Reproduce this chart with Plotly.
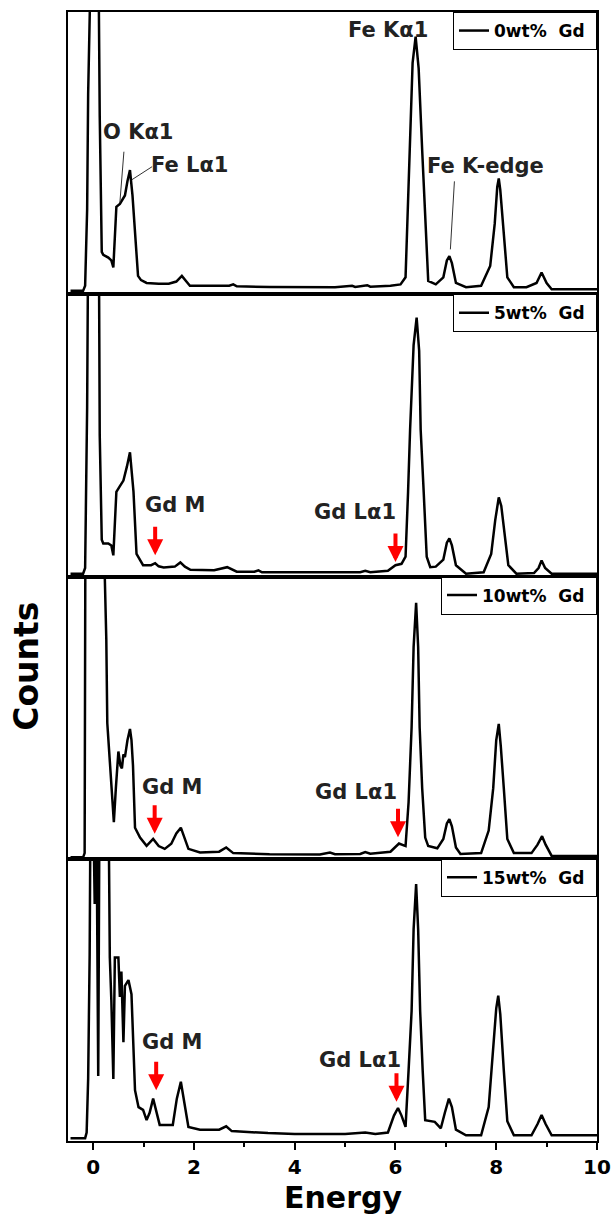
import plotly.graph_objects as go
from plotly.subplots import make_subplots

# ---------------- data (counts in arbitrary units) ----------------
labels = ["0wt%\u00a0 Gd\u00a0", "5wt%\u00a0 Gd\u00a0", "10wt%\u00a0 Gd\u00a0", "15wt%\u00a0 Gd\u00a0"]

energy_0 = [-0.45, -0.2, -0.16, -0.12, -0.1, -0.07, 0.0, 0.1, 0.13, 0.17, 0.2, 0.3, 0.36, 0.4, 0.46, 0.53,
            0.63, 0.68, 0.73, 0.78, 0.83, 0.89, 0.95, 1.06, 1.3, 1.5, 1.65, 1.76, 1.85, 1.92, 2.3, 2.7, 2.78,
            2.85, 3.5, 4.1, 4.8, 5.14, 5.2, 5.44, 5.5, 5.9, 6.1, 6.2, 6.24, 6.28, 6.34, 6.4, 6.46, 6.53, 6.58,
            6.65, 6.8, 6.95, 7.02, 7.07, 7.12, 7.2, 7.4, 7.7, 7.88, 7.97, 8.02, 8.05, 8.08, 8.15, 8.22, 8.35,
            8.6, 8.8, 8.9, 9.0, 9.1, 9.5, 10.0]
counts_0 = [0.012, 0.012, 0.03, 0.3, 0.71, 1.3, 1.6, 1.3, 0.63, 0.15, 0.14, 0.13, 0.12, 0.095, 0.31, 0.32,
            0.35, 0.40, 0.44, 0.35, 0.22, 0.065, 0.05, 0.04, 0.037, 0.037, 0.045, 0.065, 0.045, 0.03, 0.03, 0.03,
            0.035, 0.028, 0.026, 0.025, 0.025, 0.03, 0.026, 0.032, 0.027, 0.03, 0.035, 0.06, 0.3, 0.51, 0.82,
            0.913, 0.8, 0.51, 0.3, 0.047, 0.035, 0.06, 0.12, 0.135, 0.11, 0.04, 0.025, 0.03, 0.1, 0.25, 0.38,
            0.41, 0.37, 0.22, 0.06, 0.025, 0.025, 0.04, 0.077, 0.04, 0.018, 0.018, 0.018]

energy_5 = [-0.45, -0.2, -0.16, -0.12, -0.09, 0.0, 0.11, 0.13, 0.17, 0.2, 0.3, 0.36, 0.4, 0.46, 0.53, 0.6,
            0.67, 0.73, 0.8, 0.86, 0.99, 1.15, 1.23, 1.3, 1.4, 1.62, 1.73, 1.82, 1.93, 2.4, 2.66, 2.85, 3.2,
            3.28, 3.35, 4.5, 5.3, 5.4, 5.5, 5.85, 6.0, 6.12, 6.2, 6.25, 6.29, 6.36, 6.42, 6.47, 6.5, 6.56,
            6.62, 6.69, 6.8, 6.95, 7.02, 7.07, 7.12, 7.2, 7.4, 7.75, 7.9, 7.98, 8.05, 8.1, 8.16, 8.24, 8.4,
            8.75, 8.84, 8.9, 8.97, 9.1, 10.0]
counts_5 = [0.01, 0.01, 0.03, 0.6, 1.5, 1.7, 1.3, 0.5, 0.13, 0.117, 0.117, 0.11, 0.075, 0.3, 0.32, 0.34,
            0.39, 0.44, 0.3, 0.08, 0.04, 0.04, 0.047, 0.036, 0.032, 0.035, 0.05, 0.035, 0.024, 0.022, 0.033,
            0.017, 0.017, 0.022, 0.015, 0.015, 0.015, 0.02, 0.015, 0.02, 0.04, 0.045, 0.07, 0.3, 0.52, 0.82,
            0.917, 0.8, 0.52, 0.3, 0.07, 0.033, 0.035, 0.06, 0.12, 0.135, 0.11, 0.04, 0.01, 0.015, 0.08, 0.2,
            0.28, 0.25, 0.15, 0.04, 0.01, 0.012, 0.03, 0.057, 0.03, 0.01, 0.01]

energy_10 = [-0.45, -0.2, -0.17, -0.15, 0.0, 0.2, 0.23, 0.26, 0.28, 0.36, 0.41, 0.45, 0.5, 0.54, 0.57, 0.6,
             0.63, 0.68, 0.73, 0.76, 0.79, 0.83, 0.93, 1.06, 1.19, 1.3, 1.42, 1.55, 1.65, 1.74, 1.8, 1.89,
             2.12, 2.5, 2.64, 2.78, 3.5, 4.5, 4.7, 4.8, 5.3, 5.4, 5.5, 5.9, 6.07, 6.2, 6.26, 6.32, 6.36, 6.41,
             6.45, 6.48, 6.53, 6.59, 6.65, 6.83, 6.95, 7.02, 7.07, 7.12, 7.2, 7.29, 7.7, 7.85, 7.94, 8.0,
             8.05, 8.09, 8.15, 8.22, 8.35, 8.7, 8.82, 8.91, 8.98, 9.1, 10.0]
counts_10 = [0.005, 0.005, 0.02, 1.5, 2.0, 1.3, 1.0, 0.78, 0.48, 0.27, 0.13, 0.25, 0.38, 0.33, 0.32, 0.37,
             0.36, 0.42, 0.46, 0.42, 0.33, 0.11, 0.075, 0.046, 0.07, 0.045, 0.035, 0.053, 0.09, 0.11, 0.08,
             0.035, 0.022, 0.025, 0.04, 0.02, 0.016, 0.015, 0.022, 0.016, 0.017, 0.024, 0.018, 0.025, 0.054,
             0.045, 0.2, 0.465, 0.75, 0.907, 0.75, 0.465, 0.25, 0.075, 0.045, 0.037, 0.07, 0.125, 0.14, 0.115,
             0.04, 0.017, 0.02, 0.1, 0.25, 0.42, 0.478, 0.4, 0.25, 0.07, 0.02, 0.02, 0.05, 0.08, 0.05, 0.01,
             0.01]

energy_15 = [-0.45, -0.16, -0.13, -0.1, -0.07, -0.05, 0.0, 0.03, 0.06, 0.1, 0.13, 0.2, 0.3, 0.33, 0.36, 0.4,
             0.43, 0.5, 0.53, 0.56, 0.6, 0.63, 0.7, 0.76, 0.8, 0.83, 0.9, 0.99, 1.06, 1.12, 1.19, 1.25, 1.32,
             1.58, 1.66, 1.74, 1.8, 1.89, 2.12, 2.5, 2.64, 2.75, 3.47, 4.0, 5.0, 5.4, 5.6, 5.85, 5.97, 6.05,
             6.12, 6.2, 6.26, 6.32, 6.36, 6.41, 6.45, 6.49, 6.54, 6.59, 6.78, 6.9, 6.98, 7.06, 7.12, 7.2, 7.4,
             7.7, 7.85, 7.93, 8.0, 8.04, 8.08, 8.15, 8.22, 8.35, 8.7, 8.82, 8.9, 8.98, 9.1, 10.0]
counts_15 = [0.01, 0.01, 0.03, 0.22, 0.66, 1.3, 1.2, 0.84, 1.3, 0.23, 1.4, 1.6, 1.3, 0.65, 0.5, 0.22, 0.65,
             0.65, 0.51, 0.6, 0.35, 0.55, 0.57, 0.52, 0.32, 0.18, 0.12, 0.11, 0.074, 0.1, 0.15, 0.11, 0.057,
             0.057, 0.15, 0.21, 0.15, 0.05, 0.04, 0.04, 0.052, 0.035, 0.028, 0.025, 0.025, 0.03, 0.025, 0.03,
             0.09, 0.117, 0.09, 0.05, 0.25, 0.46, 0.75, 0.91, 0.75, 0.46, 0.25, 0.074, 0.068, 0.045, 0.1, 0.15,
             0.12, 0.04, 0.02, 0.02, 0.12, 0.3, 0.47, 0.515, 0.45, 0.25, 0.07, 0.02, 0.02, 0.06, 0.092, 0.06,
             0.02, 0.02]

energies = [energy_0, energy_5, energy_10, energy_15]
counts = [counts_0, counts_5, counts_10, counts_15]

x_ticks = [0, 2, 4, 6, 8, 10]

# annotation positions (energy, counts) per panel
gdm_label = [None, (1.62, 0.253), (1.56, 0.253), (1.56, 0.351)]
gdm_arrow = [None, (1.23, 0.075), (1.22, 0.089), (1.25, 0.18)]
gdl_label = [None, (5.2, 0.229), (5.22, 0.238), (5.3, 0.286)]
gdl_arrow = [None, (6.0, 0.051), (6.05, 0.076), (6.02, 0.139)]

# ---------------- figure ----------------
FONT = "DejaVu Sans"
fig = make_subplots(rows=4, cols=1, shared_xaxes=True, vertical_spacing=0)

legend_tops = [1.0, 0.75, 0.5, 0.25]
legend_names = ["legend", "legend2", "legend3", "legend4"]

for i in range(4):
    fig.add_trace(go.Scatter(x=energies[i], y=counts[i], mode="lines", name=labels[i],
                             line=dict(color="black", width=2.5), legend=legend_names[i]),
                  row=i + 1, col=1)
    leg = dict(x=1, xanchor="right", y=legend_tops[i], yanchor="top", bgcolor="white",
               bordercolor="black", borderwidth=1,
               font=dict(family=FONT, size=17, color="black", weight="bold"),
               tracegroupgap=0, itemwidth=30)
    fig.update_layout({legend_names[i]: leg})

for i in range(4):
    fig.update_yaxes(range=[0, 1], showticklabels=False, ticks="", showgrid=False, zeroline=False,
                     showline=True, mirror=True, linecolor="black", linewidth=1.5, automargin=False,
                     row=i + 1, col=1)
    fig.update_xaxes(range=[-0.5, 10], showgrid=False, zeroline=False, showline=True, mirror=True,
                     linecolor="black", linewidth=1.5, automargin=False, row=i + 1, col=1)
for i in range(3):
    fig.update_xaxes(ticks="", showticklabels=False, row=i + 1, col=1)
fig.update_xaxes(ticks="outside", ticklen=7, tickwidth=1.5, tickcolor="black", tickvals=x_ticks,
                 showticklabels=True, tickfont=dict(family=FONT, size=20, color="black", weight="bold"),
                 minor=dict(ticks="outside", ticklen=4, tickwidth=1.5, tickcolor="black", dtick=1, tick0=1),
                 row=4, col=1)

lab_font = dict(family=FONT, size=21, color="#222", weight="bold")
ann = []
# panel 1 labels
ann.append(dict(x=5.85, y=0.936, xref="x", yref="y", text="Fe K\u03b11", showarrow=False, font=lab_font))
ann.append(dict(x=0.89, y=0.576, xref="x", yref="y", text="O K\u03b11", showarrow=False, font=lab_font))
ann.append(dict(x=1.92, y=0.459, xref="x", yref="y", text="Fe L\u03b11", showarrow=False, font=lab_font))
ann.append(dict(x=7.79, y=0.456, xref="x", yref="y", text="Fe K-edge", showarrow=False, font=lab_font))
lines = [((0.61, 0.505), (0.53, 0.325)), ((1.17, 0.452), (0.77, 0.406)), ((7.17, 0.40), (7.09, 0.159))]
for (a, b) in lines:
    fig.add_shape(type="line", x0=a[0], y0=a[1], x1=b[0], y1=b[1], xref="x", yref="y",
                  line=dict(color="#333", width=1))

for i in range(1, 4):
    xr = "x%d" % (i + 1)
    yr = "y%d" % (i + 1)
    ann.append(dict(x=gdm_label[i][0], y=gdm_label[i][1], xref=xr, yref=yr, text="Gd M",
                    showarrow=False, font=lab_font))
    ann.append(dict(x=gdl_label[i][0], y=gdl_label[i][1], xref=xr, yref=yr, text="Gd L\u03b11",
                    showarrow=False, font=lab_font))
    for pt in (gdm_arrow[i], gdl_arrow[i]):
        ann.append(dict(x=pt[0], y=pt[1], xref=xr, yref=yr, ax=0, ay=-30, axref="pixel", ayref="pixel",
                        text="", showarrow=True, arrowhead=2, arrowsize=0.8, arrowwidth=4,
                        arrowcolor="red", standoff=0))

ann.append(dict(x=-0.0775, y=0.42, xref="paper", yref="paper", text="Counts", textangle=-90,
                showarrow=False, xanchor="center", yanchor="middle",
                font=dict(family=FONT, size=33, color="black", weight="bold")))
ann.append(dict(x=0.52, y=-0.05, xref="paper", yref="paper", text="Energy",
                showarrow=False, xanchor="center", yanchor="middle",
                font=dict(family=FONT, size=30, color="black", weight="bold")))

fig.update_layout(annotations=ann, width=614, height=1222, margin=dict(l=68, r=17, t=12, b=81),
                  plot_bgcolor="white", paper_bgcolor="white", showlegend=True)

fig.write_html("out.html", config={"displayModeBar": False},
               post_script="document.body.style.margin='0';document.body.style.padding='0';")
